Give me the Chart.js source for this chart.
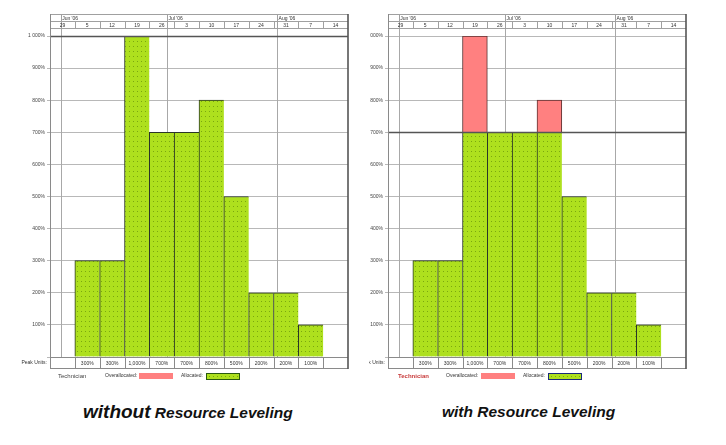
<!DOCTYPE html>
<html>
<head>
<meta charset="utf-8">
<script src="https://cdn.jsdelivr.net/npm/chart.js@4/dist/chart.umd.min.js"></script>
<style>
  html,body{margin:0;padding:0;background:#fff;width:726px;height:445px;overflow:hidden;}
  #leftWrap{position:absolute;left:0;top:0;width:360px;height:392px;}
  #rightWrap{position:absolute;left:369px;top:0;width:357px;height:392px;overflow:hidden;}
  #rightWrap canvas{position:absolute;left:-31px;top:0;}
  .title{position:absolute;top:401px;font-family:"Liberation Sans",Arial,sans-serif;font-weight:bold;font-style:italic;color:#111;white-space:nowrap;line-height:22px;}
  .big{font-size:19px;}
  .med{font-size:15.5px;}
</style>
</head>
<body>
<div id="leftWrap"><canvas id="cLeft" width="360" height="392"></canvas></div>
<div id="rightWrap"><canvas id="cRight" width="360" height="392"></canvas></div>
<div class="title" style="left:83px;"><span class="big">without</span><span class="med"> Resource Leveling</span></div>
<div class="title" style="left:442px;"><span class="med">with Resource Leveling</span></div>
<script>
// ---------- DATA ----------
const weeks = ['29','5','12','19','26','3','10','17','24','31','7','14'];
const months = ["Jun '06", "Jul '06", "Aug '06"];
const monthStartDay = [3, 33, 64];          // days after the first week start (May 29)
const yTicks = [0,100,200,300,400,500,600,700,800,900,1000];
const peakUnits = [null,300,300,1000,700,700,800,500,200,200,100,null];

const allocatedWithout = [null,300,300,1000,700,700,800,500,200,200,100,null];
const overWithout      = [null,null,null,null,null,null,null,null,null,null,null,null];
const maxUnitsWithout  = 1000;

const allocatedWith = [null,300,300,700,700,700,700,500,200,200,100,null];
const overWith      = [null,null,null,300,null,null,100,null,null,null,null,null];
const maxUnitsWith  = 700;

// ---------- helpers ----------
const FONT = '"Liberation Sans", Arial, sans-serif';
function makePattern(bg, dot){
  const c=document.createElement('canvas'); c.width=4; c.height=5;
  const x=c.getContext('2d'); x.fillStyle=bg; x.fillRect(0,0,4,5);
  x.fillStyle=dot; x.fillRect(1,1,1,1);
  return x.createPattern(c,'repeat');
}
const GREEN='#aee01e';
const greenPattern = makePattern(GREEN,'rgba(70,110,0,0.5)');
const RED='#ff8080';

function fmtAxis(v){ if(v===0) return ''; return v>=1000 ? (Math.floor(v/1000)+' '+String(v%1000).padStart(3,'0')+'%') : v+'%'; }
function fmtTable(v){ return v>=1000 ? (Math.floor(v/1000)+','+String(v%1000).padStart(3,'0')+'%') : v+'%'; }

function dayPx(chart,d){
  const xs=chart.scales.x;
  const w=xs.getPixelForValue(1)-xs.getPixelForValue(0);
  return xs.getPixelForValue(0)-w/2+d/7*w;
}
function weekEdge(chart,i){
  const xs=chart.scales.x;
  const w=xs.getPixelForValue(1)-xs.getPixelForValue(0);
  return xs.getPixelForValue(0)-w/2+i*w;
}
function line(ctx,x1,y1,x2,y2){ctx.beginPath();ctx.moveTo(x1,y1);ctx.lineTo(x2,y2);ctx.stroke();}

const frame = {
  id:'frame',
  beforeDatasetsDraw(chart,args,o){
    const ctx=chart.ctx, a=chart.chartArea;
    ctx.save(); ctx.strokeStyle='#a8a8a8'; ctx.lineWidth=1;
    monthStartDay.forEach(d=>{ const x=Math.round(dayPx(chart,d))+0.5; line(ctx,x,o.hBot,x,a.bottom); });
    ctx.restore();
  },
  afterDatasetsDraw(chart,args,o){
    const ctx=chart.ctx, a=chart.chartArea, ys=chart.scales.y;
    ctx.save(); ctx.strokeStyle='#555'; ctx.lineWidth=1.4;
    const y=Math.round(ys.getPixelForValue(o.maxUnits))+0.5;
    line(ctx,a.left,y,a.right,y);
    ctx.restore();
  },
  afterDraw(chart,args,o){
    const ctx=chart.ctx, a=chart.chartArea;
    const L=a.left, R=a.right;
    ctx.save();
    // header
    ctx.strokeStyle='#a0a0a0'; ctx.lineWidth=1;
    line(ctx,L,o.hTop+0.5,R,o.hTop+0.5);
    line(ctx,L,o.hMid+0.5,R,o.hMid+0.5);
    line(ctx,L,o.hBot+0.5,R,o.hBot+0.5);
    for(let i=1;i<weeks.length;i++){ const x=Math.round(weekEdge(chart,i))+0.5; line(ctx,x,o.hMid,x,o.hBot); }
    monthStartDay.forEach(d=>{ const x=Math.round(dayPx(chart,d))+0.5; line(ctx,x,o.hTop,x,o.hBot); });
    ctx.fillStyle='#333'; ctx.font='5px '+FONT; ctx.textBaseline='middle';
    ctx.textAlign='left';
    months.forEach((m,i)=>{ ctx.fillText(m, dayPx(chart,monthStartDay[i])+1.5, (o.hTop+o.hMid)/2+0.8); });
    ctx.textAlign='center';
    weeks.forEach((w,i)=>{ ctx.fillText(w, chart.scales.x.getPixelForValue(i), (o.hMid+o.hBot)/2+0.8); });
    // table
    const tTop=a.bottom, tBot=a.bottom+o.tableH;
    ctx.strokeStyle='#8a8a8a';
    line(ctx,L,tBot+0.5,R,tBot+0.5);
    line(ctx,L,tTop+0.5,R,tTop+0.5);
    for(let i=1;i<weeks.length;i++){ const x=Math.round(weekEdge(chart,i))+0.5; line(ctx,x,tTop,x,tBot); }
    ctx.fillStyle='#333'; ctx.textAlign='center';
    peakUnits.forEach((v,i)=>{ if(v!=null) ctx.fillText(fmtTable(v), chart.scales.x.getPixelForValue(i), (tTop+tBot)/2+0.8); });
    ctx.textAlign='right';
    ctx.fillText('Peak Units:', L-3, (tTop+tBot)/2+0.5);
    // outer borders
    ctx.strokeStyle='#8a8a8a'; ctx.lineWidth=1;
    line(ctx,L+0.5,o.hTop,L+0.5,tBot+1);
    ctx.strokeStyle='#555'; ctx.lineWidth=1.6;
    line(ctx,R,o.hTop,R,tBot+1);
    // legend
    const lg=o.legend, ly=o.legendY;
    ctx.textBaseline='middle'; ctx.textAlign='left';
    ctx.font=(o.techBold?'bold ':'')+'6px '+FONT; ctx.fillStyle=o.techColor;
    ctx.fillText('Technician', lg.tech, ly+0.5);
    ctx.font='5px '+FONT; ctx.fillStyle='#333';
    ctx.fillText('Overallocated:', lg.overText, ly);
    ctx.fillText('Allocated:', lg.allocText, ly);
    ctx.fillStyle=RED; ctx.fillRect(lg.overBox, ly-3, 34, 6);
    ctx.fillStyle=greenPattern; ctx.fillRect(lg.allocBox, ly-3, 33, 6);
    ctx.strokeStyle=o.allocBorder; ctx.lineWidth=1;
    ctx.strokeRect(lg.allocBox+0.5, ly-2.5, 33, 6);
    ctx.restore();
  }
};

function makeChart(id, allocated, over, maxUnits, extra){
  return new Chart(document.getElementById(id), {
    type:'bar',
    data:{
      labels:weeks,
      datasets:[
        {label:'Allocated', data:allocated, backgroundColor:greenPattern, borderColor:'#2a3628',
         borderWidth:{top:1,left:1,right:0,bottom:0}, borderSkipped:false, barPercentage:1, categoryPercentage:1, stack:'s'},
        {label:'Overallocated', data:over, backgroundColor:RED, borderColor:'#5a3030',
         borderWidth:{top:1,left:1,right:1,bottom:0}, borderSkipped:false, barPercentage:1, categoryPercentage:1, stack:'s'}
      ]
    },
    options:{
      responsive:false, animation:false, devicePixelRatio:1,
      layout:{padding:{left:0,top:36,right:12,bottom:35}},
      plugins:{
        legend:{display:false}, tooltip:{enabled:false},
        frame:Object.assign({hTop:14,hMid:21,hBot:28,tableH:11,maxUnits:maxUnits,legendY:376}, extra)
      },
      scales:{
        x:{type:'category', display:false, offset:true, stacked:true, grid:{display:false}},
        y:{min:0,max:1000, stacked:true,
           afterBuildTicks:(s)=>{ s.ticks=yTicks.map(v=>({value:v})); },
           afterFit:(s)=>{ s.width=50; },
           ticks:{callback:(v)=>fmtAxis(v), font:{family:FONT,size:5}, color:'#444', padding:2},
           grid:{color:'#b8b8b8', lineWidth:1, tickLength:3, drawTicks:true},
           border:{display:false}}
      }
    },
    plugins:[frame]
  });
}

makeChart('cLeft', allocatedWithout, overWithout, maxUnitsWithout,
  {techColor:'#444', techBold:false, allocBorder:'#2a5a10',
   legend:{tech:58, overText:105, overBox:139, allocText:181, allocBox:206}});
makeChart('cRight', allocatedWith, overWith, maxUnitsWith,
  {techColor:'#c83a3a', techBold:true, allocBorder:'#1a2a7a',
   legend:{tech:60, overText:108, overBox:143, allocText:185, allocBox:210}});
</script>
</body>
</html>
